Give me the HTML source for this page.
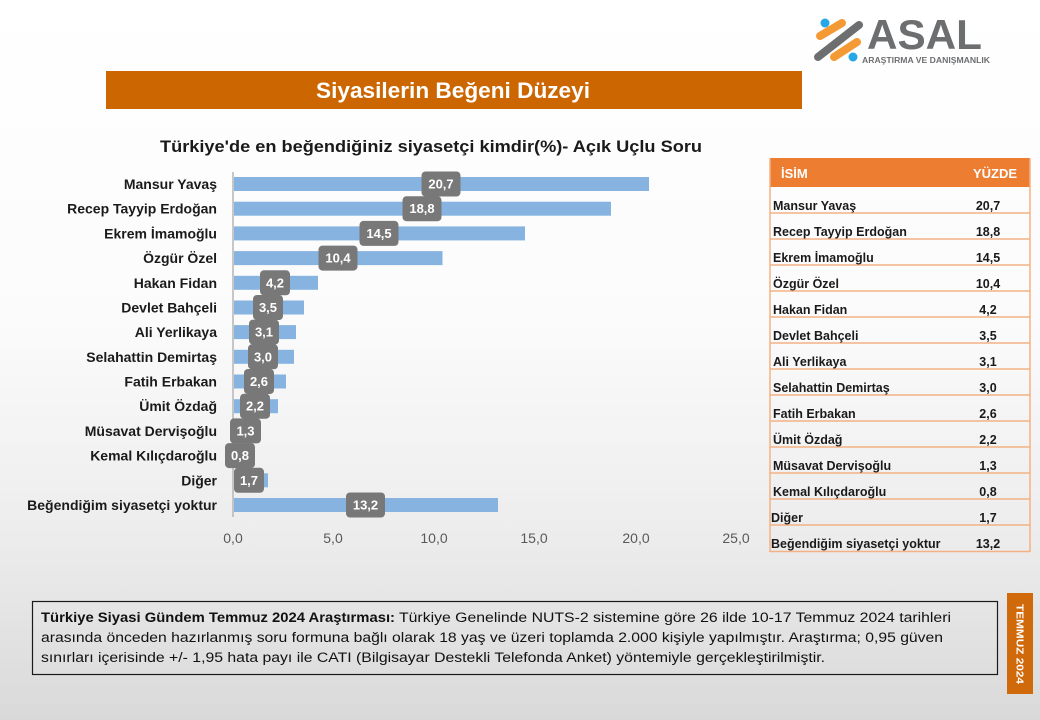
<!DOCTYPE html>
<html><head><meta charset="utf-8"><style>
html,body{margin:0;padding:0;width:1040px;height:720px;overflow:hidden;}
svg{display:block;font-family:"Liberation Sans","DejaVu Sans",sans-serif;}
</style></head><body>
<svg width="1040" height="720" viewBox="0 0 1040 720" xmlns="http://www.w3.org/2000/svg">
<defs>
<linearGradient id="bg" x1="0" y1="0" x2="0" y2="1">
<stop offset="0" stop-color="#ffffff"/>
<stop offset="0.45" stop-color="#fbfbfb"/>
<stop offset="0.75" stop-color="#ececec"/>
<stop offset="1" stop-color="#d9d9d9"/>
</linearGradient>
</defs>
<rect x="0" y="0" width="1040" height="720" fill="url(#bg)"/>

<!-- Logo -->
<g stroke-linecap="round" fill="none">
<line x1="820" y1="36" x2="842" y2="23" stroke="#f39a34" stroke-width="8"/>
<line x1="818" y1="57" x2="859" y2="25" stroke="#6d6e70" stroke-width="8"/>
<line x1="834" y1="57" x2="857" y2="42" stroke="#f39a34" stroke-width="8"/>
</g>
<circle cx="825" cy="23" r="4.5" fill="#27a7e8"/>
<circle cx="853" cy="57" r="4.5" fill="#27a7e8"/>
<text x="867" y="49" font-size="42" font-weight="bold" fill="#6d6e70" textLength="115" lengthAdjust="spacingAndGlyphs">ASAL</text>
<text x="862" y="63" font-size="8" font-weight="bold" fill="#6d6e70" textLength="128" lengthAdjust="spacingAndGlyphs">ARAŞTIRMA VE DANIŞMANLIK</text>

<!-- Banner -->
<rect x="106" y="71" width="696" height="38" fill="#cc6600"/>
<text x="316" y="98" font-size="22" font-weight="bold" fill="#ffffff" textLength="274" lengthAdjust="spacingAndGlyphs">Siyasilerin Beğeni Düzeyi</text>

<!-- Chart title -->
<text x="160" y="152" font-size="17" font-weight="bold" fill="#1a1a1a" textLength="542" lengthAdjust="spacingAndGlyphs">Türkiye'de en beğendiğiniz siyasetçi kimdir(%)- Açık Uçlu Soru</text>

<!-- Axis -->
<line x1="233" y1="172" x2="233" y2="517" stroke="#b5b5b5" stroke-width="1.5"/>

<g font-size="14" font-weight="bold" fill="#1a1a1a" text-anchor="end">
<text x="217" y="189">Mansur Yavaş</text>
<text x="217" y="213.7">Recep Tayyip Erdoğan</text>
<text x="217" y="238.4">Ekrem İmamoğlu</text>
<text x="217" y="263.1">Özgür Özel</text>
<text x="217" y="287.8">Hakan Fidan</text>
<text x="217" y="312.5">Devlet Bahçeli</text>
<text x="217" y="337.1">Ali Yerlikaya</text>
<text x="217" y="361.8">Selahattin Demirtaş</text>
<text x="217" y="386.5">Fatih Erbakan</text>
<text x="217" y="411.2">Ümit Özdağ</text>
<text x="217" y="435.9">Müsavat Dervişoğlu</text>
<text x="217" y="460.6">Kemal Kılıçdaroğlu</text>
<text x="217" y="485.3">Diğer</text>
<text x="217" y="510">Beğendiğim siyasetçi yoktur</text>
</g>

<!-- Bars -->
<g fill="#86b3e0">
<rect x="234" y="177" width="415" height="14"/>
<rect x="234" y="201.7" width="377" height="14"/>
<rect x="234" y="226.4" width="291" height="14"/>
<rect x="234" y="251.1" width="208.5" height="14"/>
<rect x="234" y="275.8" width="84" height="14"/>
<rect x="234" y="300.5" width="70" height="14"/>
<rect x="234" y="325.1" width="62" height="14"/>
<rect x="234" y="349.8" width="60" height="14"/>
<rect x="234" y="374.5" width="52" height="14"/>
<rect x="234" y="399.2" width="44" height="14"/>
<rect x="234" y="423.9" width="26" height="14"/>
<rect x="234" y="448.6" width="16" height="14"/>
<rect x="234" y="473.3" width="34" height="14"/>
<rect x="234" y="498" width="264" height="14"/>
</g>

<!-- Data labels -->
<g fill="#787878">
<rect x="421.5" y="171.5" width="39" height="25" rx="4"/>
<rect x="402.5" y="196.2" width="39" height="25" rx="4"/>
<rect x="359.5" y="220.9" width="39" height="25" rx="4"/>
<rect x="318.5" y="245.6" width="39" height="25" rx="4"/>
<rect x="260" y="270.3" width="30" height="25" rx="4"/>
<rect x="253" y="295" width="30" height="25" rx="4"/>
<rect x="249" y="319.6" width="30" height="25" rx="4"/>
<rect x="248" y="344.3" width="30" height="25" rx="4"/>
<rect x="244" y="369" width="30" height="25" rx="4"/>
<rect x="240" y="393.7" width="30" height="25" rx="4"/>
<rect x="230" y="418.4" width="31" height="25" rx="4"/>
<rect x="225" y="443.1" width="30" height="25" rx="4"/>
<rect x="234" y="467.8" width="30" height="25" rx="4"/>
<rect x="346" y="492.5" width="39" height="25" rx="4"/>
</g>
<g font-size="13" font-weight="bold" fill="#ffffff" text-anchor="middle">
<text x="441" y="188.5">20,7</text>
<text x="422" y="213.2">18,8</text>
<text x="379" y="237.9">14,5</text>
<text x="338" y="262.6">10,4</text>
<text x="275" y="287.3">4,2</text>
<text x="268" y="312">3,5</text>
<text x="264" y="336.6">3,1</text>
<text x="263" y="361.3">3,0</text>
<text x="259" y="386">2,6</text>
<text x="255" y="410.7">2,2</text>
<text x="245.5" y="435.4">1,3</text>
<text x="240" y="460.1">0,8</text>
<text x="249" y="484.8">1,7</text>
<text x="365.5" y="509.5">13,2</text>
</g>

<!-- X tick labels -->
<g font-size="14" fill="#595959" text-anchor="middle">
<text x="233" y="543">0,0</text>
<text x="333" y="543">5,0</text>
<text x="434" y="543">10,0</text>
<text x="534" y="543">15,0</text>
<text x="636" y="543">20,0</text>
<text x="736" y="543">25,0</text>
</g>

<!-- Table -->
<rect x="770" y="158" width="260" height="29" fill="#ed7d31"/>
<text x="781" y="178" font-size="13" font-weight="bold" fill="#ffffff">İSİM</text>
<text x="1017" y="178" font-size="13" font-weight="bold" fill="#ffffff" text-anchor="end">YÜZDE</text>
<g stroke="#f4b183" stroke-width="1.5" fill="none">
<line x1="770" y1="158" x2="770" y2="552"/>
<line x1="1030" y1="158" x2="1030" y2="552"/>
<line x1="770" y1="213" x2="1030" y2="213"/>
<line x1="770" y1="239" x2="1030" y2="239"/>
<line x1="770" y1="265" x2="1030" y2="265"/>
<line x1="770" y1="291" x2="1030" y2="291"/>
<line x1="770" y1="317" x2="1030" y2="317"/>
<line x1="770" y1="343" x2="1030" y2="343"/>
<line x1="770" y1="369" x2="1030" y2="369"/>
<line x1="770" y1="395" x2="1030" y2="395"/>
<line x1="770" y1="421" x2="1030" y2="421"/>
<line x1="770" y1="447" x2="1030" y2="447"/>
<line x1="770" y1="473" x2="1030" y2="473"/>
<line x1="770" y1="499" x2="1030" y2="499"/>
<line x1="770" y1="525" x2="1030" y2="525"/>
<line x1="770" y1="551.5" x2="1030" y2="551.5"/>
</g>
<g font-size="12.5" font-weight="bold" fill="#1a1a1a">
<text x="773" y="210">Mansur Yavaş</text>
<text x="773" y="236">Recep Tayyip Erdoğan</text>
<text x="773" y="262">Ekrem İmamoğlu</text>
<text x="773" y="288">Özgür Özel</text>
<text x="773" y="314">Hakan Fidan</text>
<text x="773" y="340">Devlet Bahçeli</text>
<text x="773" y="366">Ali Yerlikaya</text>
<text x="773" y="392">Selahattin Demirtaş</text>
<text x="773" y="418">Fatih Erbakan</text>
<text x="773" y="444">Ümit Özdağ</text>
<text x="773" y="470">Müsavat Dervişoğlu</text>
<text x="773" y="496">Kemal Kılıçdaroğlu</text>
<text x="771" y="522">Diğer</text>
<text x="771" y="548">Beğendiğim siyasetçi yoktur</text>
</g>
<g font-size="12.5" font-weight="bold" fill="#1a1a1a" text-anchor="middle">
<text x="988" y="210">20,7</text>
<text x="988" y="236">18,8</text>
<text x="988" y="262">14,5</text>
<text x="988" y="288">10,4</text>
<text x="988" y="314">4,2</text>
<text x="988" y="340">3,5</text>
<text x="988" y="366">3,1</text>
<text x="988" y="392">3,0</text>
<text x="988" y="418">2,6</text>
<text x="988" y="444">2,2</text>
<text x="988" y="470">1,3</text>
<text x="988" y="496">0,8</text>
<text x="988" y="522">1,7</text>
<text x="988" y="548">13,2</text>
</g>

<!-- Footnote -->
<rect x="32.5" y="601.5" width="965" height="73" fill="none" stroke="#1a1a1a" stroke-width="1.2"/>
<text x="41" y="622" font-size="13.5" font-weight="bold" fill="#111" textLength="354" lengthAdjust="spacingAndGlyphs">Türkiye Siyasi Gündem Temmuz 2024 Araştırması:</text>
<text x="399" y="622" font-size="13.5" fill="#111" textLength="552" lengthAdjust="spacingAndGlyphs">Türkiye Genelinde NUTS-2 sistemine göre 26 ilde 10-17 Temmuz 2024 tarihleri</text>
<text x="41" y="642" font-size="13.5" fill="#111" textLength="902" lengthAdjust="spacingAndGlyphs">arasında önceden hazırlanmış soru formuna bağlı olarak 18 yaş ve üzeri toplamda 2.000 kişiyle yapılmıştır. Araştırma; 0,95 güven</text>
<text x="41" y="662" font-size="13.5" fill="#111" textLength="784" lengthAdjust="spacingAndGlyphs">sınırları içerisinde +/- 1,95 hata payı ile CATI (Bilgisayar Destekli Telefonda Anket) yöntemiyle gerçekleştirilmiştir.</text>

<!-- Vertical tag -->
<rect x="1007" y="593" width="26" height="101" fill="#d0690a"/>
<text x="0" y="0" font-size="10" font-weight="bold" fill="#ffffff" text-anchor="middle" transform="translate(1016.5,644) rotate(90)" textLength="80" lengthAdjust="spacingAndGlyphs">TEMMUZ 2024</text>
</svg>
</body></html>
